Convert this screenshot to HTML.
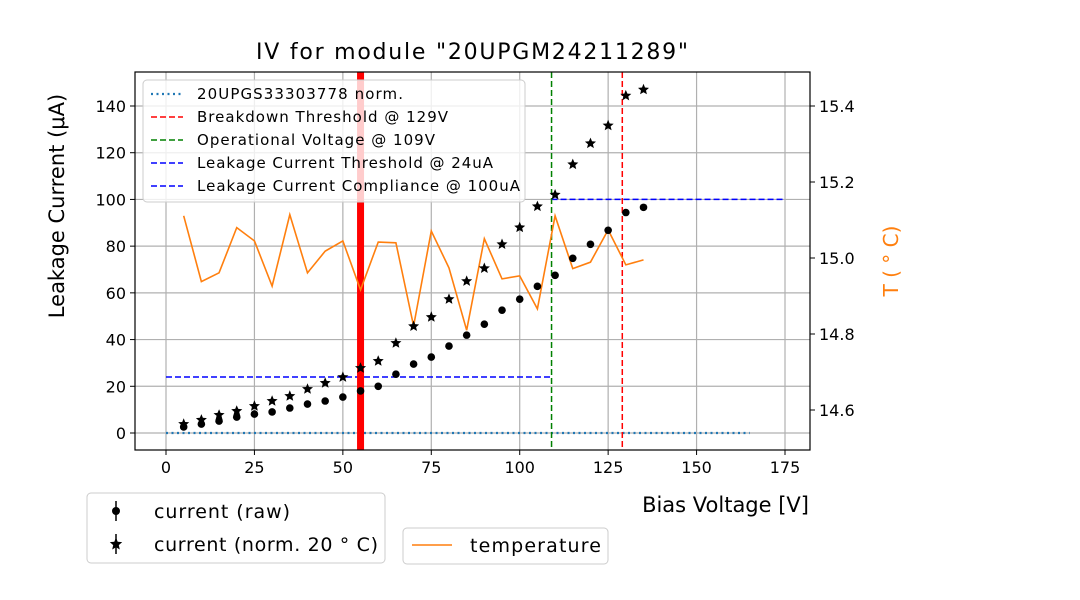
<!DOCTYPE html>
<html><head><meta charset="utf-8"><style>
body{margin:0;background:#fff}
svg{display:block;font-family:"DejaVu Sans","Liberation Sans",sans-serif}
</style></head><body>
<svg id="chart" width="1080" height="600"></svg>
<script>
const voltages=[5,10,15,20,25,30,35,40,45,50,55,60,65,70,75,80,85,90,95,100,105,110,115,120,125,130,135];
const currentRaw=[2.6,3.8,5.1,6.8,8.1,9,10.7,12.4,13.7,15.4,18,20,25.2,29.5,32.5,37.2,41.9,46.6,52.6,57.3,62.8,67.5,74.8,80.8,86.8,94.4,96.6];
const currentNorm=[3.8,5.6,7.7,9.4,11.5,13.7,15.8,18.8,21.4,23.9,27.8,30.8,38.5,45.7,49.6,57.3,65,70.5,80.8,88,97,102,115,124,131.6,144.4,147];
const temperature=[15.111,14.938,14.961,15.08,15.045,14.926,15.114,14.961,15.018,15.045,14.916,15.042,15.04,14.821,15.071,14.974,14.81,15.051,14.945,14.953,14.866,15.111,14.972,14.989,15.074,14.982,14.995];
const xTicks=[0,25,50,75,100,125,150,175];
const yTicks=[0,20,40,60,80,100,120,140];
const tTicks=[14.6,14.8,15.0,15.2,15.4];
const breakdownV=129, operationalV=109, leakThr=24, leakComp=100, markerV=55;

const L=135,R=810,T=72,B=450;
const X=v=>166+(v-0)*(785-166)/175;
const Y=v=>433-v*(433-106)/140;
const YT=t=>410-(t-14.6)*380;
const svg=document.getElementById('chart');
const NS='http://www.w3.org/2000/svg';
function el(tag,attrs,parent){const e=document.createElementNS(NS,tag);for(const k in attrs)e.setAttribute(k,attrs[k]);(parent||svg).appendChild(e);return e;}

xTicks.forEach(t=>{const g=el('line',{x1:X(t),x2:X(t),y1:T,y2:B,stroke:'#b0b0b0','stroke-width':1.2});
});
yTicks.forEach(t=>{const g=el('line',{x1:L,x2:R,y1:Y(t),y2:Y(t),stroke:'#b0b0b0','stroke-width':1.2});
});

let ln;
ln=el('line',{x1:X(0),x2:X(165),y1:Y(0),y2:Y(0),stroke:'#1f77b4','stroke-width':2.2,'stroke-dasharray':'2,3.5'});

ln=el('line',{x1:X(0),x2:X(operationalV),y1:Y(leakThr),y2:Y(leakThr),stroke:'#0000ff','stroke-width':1.5,'stroke-dasharray':'6,3'});

ln=el('line',{x1:X(operationalV),x2:X(175),y1:Y(leakComp),y2:Y(leakComp),stroke:'#0000ff','stroke-width':1.5,'stroke-dasharray':'6,3'});

ln=el('line',{x1:X(operationalV),x2:X(operationalV),y1:T,y2:B,stroke:'#008000','stroke-width':1.5,'stroke-dasharray':'6,3'});

ln=el('line',{x1:X(breakdownV),x2:X(breakdownV),y1:T,y2:B,stroke:'#ff0000','stroke-width':1.5,'stroke-dasharray':'6,3'});

ln=el('line',{x1:X(markerV),x2:X(markerV),y1:T,y2:B,stroke:'#ff0000','stroke-width':7});


const tp=el('polyline',{points:voltages.map((v,i)=>X(v)+','+YT(temperature[i])).join(' '),fill:'none',stroke:'#ff7f0e','stroke-width':1.6});


function star(cx,cy,r){let p=[];for(let i=0;i<10;i++){const a=-Math.PI/2+i*Math.PI/5;const rr=i%2?r*0.45:r;p.push((cx+rr*Math.cos(a)).toFixed(1)+','+(cy+rr*Math.sin(a)).toFixed(1));}return p.join(' ');}
voltages.forEach((v,i)=>{
 const c=el('circle',{cx:X(v),cy:Y(currentRaw[i]),r:3.8,fill:'#000'});
 
 const s=el('polygon',{points:star(X(v),Y(currentNorm[i]),5.8),fill:'#000'});
 
});

const fr=el('rect',{x:L,y:T,width:R-L,height:B-T,fill:'none',stroke:'#000','stroke-width':1.2});


xTicks.forEach(t=>{el('line',{x1:X(t),x2:X(t),y1:B,y2:B+5,stroke:'#000'});
const tx=el('text',{x:X(t),y:B+23,'font-size':16,'text-anchor':'middle'});tx.textContent=t;
});
yTicks.forEach(t=>{el('line',{x1:L-5,x2:L,y1:Y(t),y2:Y(t),stroke:'#000'});
const tx=el('text',{x:L-9,y:Y(t)+6,'font-size':16,'text-anchor':'end'});tx.textContent=t;
});
tTicks.forEach(t=>{el('line',{x1:R,x2:R+5,y1:YT(t),y2:YT(t),stroke:'#000'});
const tx=el('text',{x:R+9,y:YT(t)+6,'font-size':16});tx.textContent=t.toFixed(1);
});
</script>
<svg width="1080" height="600" style="position:absolute;left:0;top:0">
<text x="472" y="59" font-size="22" text-anchor="middle" textLength="432">IV for module "20UPGM24211289"</text>
<text x="809" y="512" font-size="21" text-anchor="end">Bias Voltage [V]</text>
<text transform="translate(64,206) rotate(-90)" font-size="21" text-anchor="middle">Leakage Current (μA)</text>
<text transform="translate(898,261) rotate(-90)" font-size="20" fill="#ff7f0e" text-anchor="middle">T ( ° C)</text>
<g font-size="15">
<rect x="143" y="80" width="382" height="122" rx="4" fill="#fff" fill-opacity="0.8" stroke="#ccc"/>
<line x1="151" y1="94" x2="183" y2="94" stroke="#1f77b4" stroke-width="2.2" stroke-dasharray="2,3.5"/>
<text x="197" y="99" textLength="206">20UPGS33303778 norm.</text>
<line x1="151" y1="117" x2="183" y2="117" stroke="#f00" stroke-width="1.5" stroke-dasharray="6,3"/>
<text x="197" y="122" textLength="251">Breakdown Threshold @ 129V</text>
<line x1="151" y1="140" x2="183" y2="140" stroke="#008000" stroke-width="1.5" stroke-dasharray="6,3"/>
<text x="197" y="145" textLength="238">Operational Voltage @ 109V</text>
<line x1="151" y1="163" x2="183" y2="163" stroke="#00f" stroke-width="1.5" stroke-dasharray="6,3"/>
<text x="197" y="168" textLength="296">Leakage Current Threshold @ 24uA</text>
<line x1="151" y1="186" x2="183" y2="186" stroke="#00f" stroke-width="1.5" stroke-dasharray="6,3"/>
<text x="197" y="191" textLength="323">Leakage Current Compliance @ 100uA</text>
</g>
<g font-size="19">
<rect x="87" y="493" width="298" height="70" rx="4" fill="#fff" stroke="#ccc"/>
<line x1="116" y1="501" x2="116" y2="521" stroke="#000" stroke-width="1.5"/>
<circle cx="116" cy="511" r="4" fill="#000"/>
<text x="154" y="518" textLength="136">current (raw)</text>
<line x1="116" y1="534" x2="116" y2="554" stroke="#000" stroke-width="1.5"/>
<polygon points="116,537.5 117.7,541.7 122.2,542.1 118.8,545.1 119.8,549.5 116,547.2 112.2,549.5 113.2,545.1 109.8,542.1 114.3,541.7" fill="#000"/>
<text x="154" y="551" textLength="224">current (norm. 20 ° C)</text>
</g>
<g font-size="19">
<rect x="403" y="528" width="205" height="36" rx="4" fill="#fff" stroke="#ccc"/>
<line x1="412" y1="545" x2="452" y2="545" stroke="#ff7f0e" stroke-width="1.6"/>
<text x="470" y="552" textLength="131">temperature</text>
</g>
</svg>
</body></html>
